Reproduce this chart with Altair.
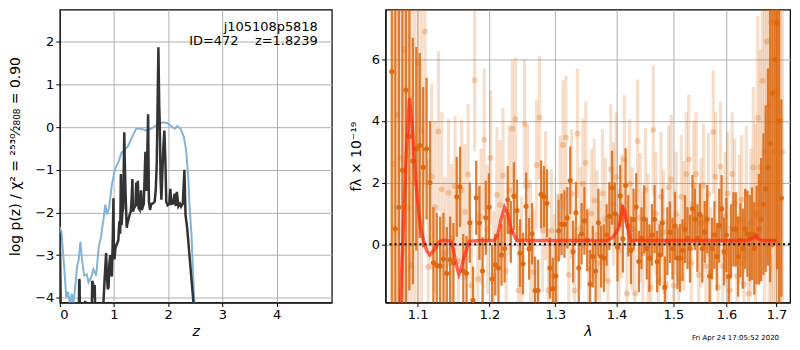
import altair as alt
import pandas as pd

FONT = "DejaVu Sans"

# ---------------- left panel: log p(z) ----------------
z_chi2 = [0.0, 0.03, 0.08, 0.12, 0.15, 0.19, 0.22, 0.25, 0.28, 0.32, 0.35, 0.38, 0.41, 0.45, 0.5,
          0.53, 0.58, 0.62, 0.67, 0.72, 0.76, 0.81, 0.84, 0.87, 0.91, 0.96, 1.02, 1.08, 1.14, 1.2,
          1.26, 1.32, 1.41, 1.5, 1.59, 1.68, 1.78, 1.9, 1.99, 2.08, 2.12, 2.17, 2.23, 2.29, 2.33,
          2.37, 2.39, 2.43, 2.46, 2.49]
logp_chi2 = [-2.35, -2.45, -3.26, -4.0, -3.86, -4.15, -3.9, -4.15, -3.8, -3.26, -3.1, -2.69, -3.1,
             -3.48, -3.45, -3.64, -3.52, -3.33, -3.48, -2.8, -2.58, -2.12, -1.82, -2.05, -1.89,
             -1.36, -0.98, -0.83, -0.6, -0.53, -0.45, -0.27, -0.04, -0.04, -0.08, -0.04, 0.04,
             0.11, 0.09, 0.0, -0.04, 0.02, -0.04, -0.23, -0.53, -1.14, -1.74, -2.5, -3.41, -4.3]

z_pz = [0.0, 0.012, 0.02, 0.35, 0.358, 0.365, 0.372, 0.38, 0.46, 0.468, 0.475, 0.48, 0.59, 0.598,
        0.61, 0.625, 0.635, 0.645, 0.655, 0.79, 0.81, 0.83, 0.855, 0.87, 0.885, 0.90, 0.915, 0.93,
        0.945, 0.96, 0.975, 0.99, 1.0, 1.01, 1.025, 1.04, 1.06, 1.08, 1.10, 1.115, 1.127, 1.14,
        1.155, 1.17, 1.18, 1.19, 1.20, 1.215, 1.235, 1.25, 1.27, 1.29, 1.31, 1.325, 1.34, 1.35,
        1.37, 1.395, 1.41, 1.425, 1.44, 1.455, 1.475, 1.50, 1.515, 1.55, 1.58, 1.60, 1.63, 1.645,
        1.665, 1.69, 1.72, 1.75, 1.77, 1.79, 1.82, 1.835, 1.845, 1.86, 1.875, 1.89, 1.91, 1.93,
        1.95, 1.965, 1.99, 2.02, 2.04, 2.06, 2.09, 2.12, 2.14, 2.16, 2.19, 2.22, 2.24, 2.27, 2.30,
        2.32, 2.35, 2.40, 2.45, 2.48]
logp_pz = [-2.5, -3.6, -4.5, -4.5, -3.56, -3.6, -4.5, -4.5, -4.5, -4.07, -4.5, -4.5, -4.5, -3.6,
           -3.65, -3.75, -4.0, -3.7, -4.5, -4.5, -4.0, -3.5, -2.95, -3.5, -3.8, -3.75, -3.2, -3.0,
           -3.4, -3.5, -2.8, -1.67, -3.0, -3.1, -2.85, -2.78, -2.72, -2.65, -2.2, -2.5, -1.1, -2.3,
           -2.0, -1.9, -1.0, -0.12, -0.84, -1.6, -2.36, -2.25, -2.15, -2.05, -1.98, -1.7, -1.22,
           -1.98, -1.9, -1.85, -1.3, -1.85, -1.26, -1.9, -1.94, -1.48, -1.94, -1.8, -0.58, -1.5,
           0.3, -1.75, -1.94, -1.8, -1.79, -1.75, -1.5, -0.84, 1.87, 0.52, 0.1, -1.22, -1.7, -1.2,
           -0.5, -0.08, -0.84, -1.75, -1.83, -1.8, -1.45, -1.8, -1.79, -1.56, -1.85, -1.52, -1.86,
           -1.8, -1.86, -1.8, -1.0, -2.05, -2.35, -3.1, -3.86, -4.3]

z_ticks = [0, 1, 2, 3, 4]
logp_ticks = [-4, -3, -2, -1, 0, 1, 2]
annot_lines = ["j105108p5818", "ID=472\u00a0\u00a0\u00a0\u00a0z=1.8239"]

# ---------------- right panel: 1D spectrum ----------------
lam_start_dark = 1.066
lam_start_light = 1.0683
lam_step = 0.0046

flux_dark = [5.6, 0.5, 1.2, 2.4, 5.0, 3.5, 2.7, 3.1, 3.2, 2.5,
             3.1, 2.0, -0.6, -0.68, -0.71, -0.48, -0.94, -0.5, -0.61, 1.54,
             1.86, -0.87, -0.94, 0.7, -1.82, 1.51, 0.7, -0.87, 0.86, 1.2,
             -1.13, -0.66, -0.77, -0.35, -0.14, 1.44, 0.4, 1.56, 1.09, -0.29,
             -0.63, 1.23, -0.15, 0.34, -1.5, -1.5, 1.62, 1.54, 1.33, -0.77,
             -1.44, -1.03, 0.44, 0.65, 0.65, 0.86, 2.07, -0.24, 1.02, -0.77,
             0.34, 0.76, 0.13, -1.29, -0.4, -0.87, 0.7, -0.4, -0.45, 0.3,
             0.91, 1.83, 1.0, -0.1, 1.57, 0.18, 1.91, 0.6, -0.2, 0.8,
             1.21, -0.56, 0.2, 0.81, -0.14, -0.45, 0.3, 0.81, -0.56, -0.35,
             0.7, -1.4, 0.1, 0.39, -0.14, 0.6, -0.45, -0.45, -0.19, 0.49,
             0.2, -0.14, 1.15, 0.81, 0.2, 0.97, -0.14, 0.4, 0.81, -1.03,
             -0.14, 0.3, -0.4, 0.6, 1.15, -0.24, 0.3, -1.05, 0.1, 0.49,
             0.49, -0.4, 0.13, -0.14, 0.5, 0.34, 0.2, 0.34, -0.14, 0.3,
             0.49, 0.8, 1.3, 1.8, 2.5, 3.27, 4.9, 6.0, 7.18, 4.0,
             1.5]
err_dark = [12, 12, 12, 12, 8, 5, 4, 3.3, 3.0, 2.6,
            2.3, 2.0, 1.8, 1.7, 1.6, 1.5, 1.5, 1.4, 1.3, 1.3,
            1.3, 1.2, 1.2, 1.3, 1.1, 1.2, 1.2, 1.1, 1.2, 1.1,
            1.1, 1.0, 1.1, 1.0, 1.1, 1.1, 1.0, 1.1, 1.0, 1.1,
            1.0, 1.1, 1.0, 1.0, 1.1, 1.0, 1.1, 1.0, 1.1, 1.0,
            1.0, 1.1, 1.0, 1.0, 1.1, 1.0, 1.1, 1.0, 1.0, 1.1,
            1.0, 1.1, 1.0, 1.1, 1.0, 1.0, 1.1, 1.0, 1.1, 1.0,
            1.1, 1.2, 1.0, 1.1, 1.0, 1.1, 1.2, 1.0, 1.1, 1.0,
            1.1, 1.0, 1.0, 1.1, 1.0, 1.1, 1.0, 1.1, 1.0, 1.0,
            1.1, 1.0, 1.1, 1.0, 1.0, 1.1, 1.0, 1.1, 1.0, 1.1,
            1.0, 1.1, 1.1, 1.0, 1.1, 1.0, 1.1, 1.0, 1.1, 1.1,
            1.0, 1.1, 1.1, 1.2, 1.1, 1.1, 1.2, 1.1, 1.2, 1.2,
            1.2, 1.3, 1.2, 1.3, 1.3, 1.4, 1.4, 1.5, 1.5, 1.6,
            1.8, 2.0, 2.3, 2.7, 3.2, 4.5, 5.0, 6.0, 8.0, 12,
            3.2]

flux_light = [2.6, 4.2, 2.8, 6.3, 1.2, -0.7, 2.0, 5.9, 3.7, 6.9,
              -0.74, 2.2, 1.2, 3.66, 1.78, -0.3, 1.67, 0.2, 1.88, -0.55,
              1.75, 1.05, 2.26, -1.34, 5.32, -1.13, 0.9, 3.4, 0.49, 2.8,
              -1.03, 1.6, 1.28, 2.22, -0.87, 1.75, 3.75, 4.06, -1.5, -0.45,
              3.9, 1.91, 0.0, -0.9, 2.57, 4.11, 0.44, 1.57, -1.5, 0.44,
              -1.03, -0.45, 1.53, 3.22, 3.46, -1.0, 1.63, -1.5, 3.59, 0.5,
              1.96, 2.64, -0.82, 1.0, 1.42, 0.3, -0.6, 1.65, 0.8, -1.19,
              2.43, 1.3, 2.17, -0.2, 0.9, 2.75, -1.6, 1.96, 0.5, -1.6,
              3.35, 0.86, -0.3, 1.77, 0.2, -1.4, 3.71, 1.0, -1.2, 1.54,
              0.4, -1.3, 1.85, 2.1, -1.34, 1.0, -1.13, 1.54, 0.6, 2.28,
              2.75, -0.6, 1.91, 2.28, -1.0, 0.7, 1.91, -0.71, 1.62, -0.9,
              3.64, 2.2, -1.4, 2.52, -0.71, 0.9, 1.65, -1.5, 2.28, 1.33,
              -1.03, 0.8, 1.44, -1.3, 1.65, -1.6, 0.7, 2.5, 1.0, 4.1,
              2.5, 5.3, 3.0, 6.58, 4.5, 7.2, 3.0, 5.0, 2.0, 4.0,
              3.0]
err_light = [12, 12, 12, 12, 10, 10, 9, 8, 6, 5,
             3.5, 3.0, 2.8, 2.6, 2.5, 2.5, 2.4, 2.4, 2.3, 2.3,
             2.3, 2.2, 2.3, 2.2, 2.3, 2.2, 2.2, 2.3, 2.1, 2.2,
             2.1, 2.2, 2.1, 2.2, 2.0, 2.1, 2.2, 2.0, 2.1, 2.0,
             2.1, 2.0, 2.1, 2.0, 2.1, 2.0, 2.0, 2.1, 2.0, 2.0,
             2.0, 2.1, 2.0, 2.1, 2.0, 2.0, 2.1, 2.0, 2.1, 2.0,
             2.1, 2.0, 2.0, 2.1, 2.0, 2.1, 2.0, 2.1, 2.0, 2.0,
             2.1, 2.0, 2.1, 2.0, 2.0, 2.1, 2.0, 2.1, 2.0, 2.1,
             2.0, 2.1, 2.0, 2.0, 2.1, 2.0, 2.1, 2.0, 2.0, 2.1,
             2.0, 2.1, 2.0, 2.1, 2.0, 2.0, 2.1, 2.0, 2.1, 2.0,
             2.1, 2.0, 2.1, 2.0, 2.0, 2.1, 2.0, 2.1, 2.0, 2.1,
             2.0, 2.1, 2.0, 2.1, 2.0, 2.1, 2.0, 2.1, 2.0, 2.1,
             2.0, 2.1, 2.1, 2.2, 2.2, 2.3, 2.4, 2.6, 2.9, 3.3,
             3.8, 4.5, 5.5, 7, 9, 12, 12, 12, 12, 12,
             12]

lam_model = [1.072, 1.0772, 1.081, 1.085, 1.0891, 1.093, 1.097, 1.100, 1.104, 1.1073, 1.112,
             1.1161, 1.120, 1.125, 1.130, 1.1361, 1.1452, 1.149, 1.152, 1.1565, 1.160, 1.1633,
             1.168, 1.1716, 1.19, 1.2068, 1.212, 1.217, 1.2222, 1.227, 1.232, 1.2406, 1.30,
             1.3827, 1.392, 1.398, 1.403, 1.407, 1.4103, 1.414, 1.418, 1.4242, 1.50, 1.640,
             1.650, 1.6566, 1.663, 1.670, 1.7003]
flux_model = [-3.0, -1.9, 0.5, 3.0, 4.74, 3.8, 2.2, 1.39, 0.5, 0.18, -0.2, -0.35, -0.25, -0.08,
              0.1, 0.13, 0.1, -0.2, -0.6, -0.98, -0.75, -0.45, -0.1, 0.1, 0.12, 0.12, 0.3, 0.8,
              1.2, 1.0, 0.5, 0.12, 0.12, 0.12, 0.2, 0.35, 0.5, 0.8, 1.2, 1.1, 0.6, 0.12, 0.12,
              0.12, 0.18, 0.25, 0.18, 0.12, 0.12]

lam_ticks = [1.1, 1.2, 1.3, 1.4, 1.5, 1.6, 1.7]
flux_ticks = [0, 2, 4, 6]
timestamp = "Fri Apr 24 17:05:52 2020"

# ---------------- build tables ----------------
chi2_df = pd.DataFrame({"z": z_chi2, "logp": logp_chi2})
pz_df = pd.DataFrame({"z": z_pz, "logp": logp_pz})

dark = pd.DataFrame({
    "lam": [round(lam_start_dark + lam_step * i, 4) for i in range(len(flux_dark))],
    "flux": flux_dark, "err": err_dark})
dark["lo"] = dark["flux"] - dark["err"]
dark["hi"] = dark["flux"] + dark["err"]
light = pd.DataFrame({
    "lam": [round(lam_start_light + lam_step * i, 4) for i in range(len(flux_light))],
    "flux": flux_light, "err": err_light})
light["lo"] = light["flux"] - light["err"]
light["hi"] = light["flux"] + light["err"]
model = pd.DataFrame({"lam": lam_model, "flux": flux_model})

W1, W2, H = 273, 406, 294
ORANGE = "#dc670f"

# ---------------- left chart ----------------
zx = alt.X("z:Q", scale=alt.Scale(domain=[0, 5.02], nice=False, zero=False),
           axis=alt.Axis(values=z_ticks, format="d", title="z", titleFontStyle="italic",
                         titlePadding=3))
zy = alt.Y("logp:Q", scale=alt.Scale(domain=[-4.11, 2.75], nice=False, zero=False),
           axis=alt.Axis(values=logp_ticks, format="d",
                         title="log p(z) / χ² = ²⁵³⁰⁄₂₈₀₈ = 0.90", titlePadding=12))

blue = alt.Chart(chi2_df).mark_line(clip=True, color="#83b4d8", strokeWidth=2).encode(
    x=zx, y=zy, order="z:Q")
black = alt.Chart(pz_df).mark_line(clip=True, color="#333333", strokeWidth=2.5).encode(
    x=zx, y=zy, order="z:Q")
ann1 = alt.Chart(pd.DataFrame({"t": [annot_lines[0]]})).mark_text(
    align="right", baseline="alphabetic", fontSize=13, font=FONT, color="black").encode(
    x=alt.value(W1 - 14), y=alt.value(21), text="t:N")
ann2 = alt.Chart(pd.DataFrame({"t": [annot_lines[1]]})).mark_text(
    align="right", baseline="alphabetic", fontSize=13, font=FONT, color="black").encode(
    x=alt.value(W1 - 14), y=alt.value(36), text="t:N")

left = alt.layer(blue, black, ann1, ann2).properties(width=W1, height=H)

# ---------------- right chart ----------------
lx = alt.X("lam:Q", scale=alt.Scale(type="log", domain=[1.058, 1.728], nice=False, zero=False),
           axis=alt.Axis(values=lam_ticks, format=".1f", title="λ", titleFontStyle="italic",
                         titlePadding=3))
yscale = alt.Scale(domain=[-1.89, 7.61], nice=False, zero=False)
ly = alt.Y("flux:Q", scale=yscale,
           axis=alt.Axis(values=flux_ticks, format="d", title="fλ × 10⁻¹⁹", titlePadding=8))

light_err = alt.Chart(light).mark_rule(clip=True, color=ORANGE, opacity=0.22, strokeWidth=3.2).encode(
    x=lx, y=alt.Y("lo:Q", scale=yscale), y2="hi:Q")
light_pts = alt.Chart(light).mark_circle(clip=True, color=ORANGE, opacity=0.28, size=36).encode(
    x=lx, y=ly)
dark_err = alt.Chart(dark).mark_rule(clip=True, color=ORANGE, opacity=0.85, strokeWidth=2.3).encode(
    x=lx, y=alt.Y("lo:Q", scale=yscale), y2="hi:Q")
dark_pts = alt.Chart(dark).mark_circle(clip=True, color=ORANGE, opacity=0.95, size=26).encode(
    x=lx, y=ly)
model_line = alt.Chart(model).mark_line(clip=True, color="#ff2a12", opacity=0.72,
                                        strokeWidth=3.4).encode(x=lx, y=ly, order="lam:Q")
zero_line = alt.Chart(pd.DataFrame({"v": [0]})).mark_rule(
    color="black", strokeDash=[2, 3], strokeWidth=2).encode(y=alt.Y("v:Q", scale=yscale))
stamp = alt.Chart(pd.DataFrame({"t": [timestamp]})).mark_text(
    align="right", baseline="alphabetic", fontSize=7, font=FONT, color="black").encode(
    x=alt.value(W2 - 11), y=alt.value(H + 38), text="t:N")

right = alt.layer(light_err, light_pts, dark_err, dark_pts, model_line, zero_line, stamp
                  ).properties(width=W2, height=H)

chart = alt.hconcat(left, right, spacing=16).properties(padding=0).configure_axis(
    labelFont=FONT, titleFont=FONT, labelFontSize=13, titleFontSize=14,
    labelColor="black", titleColor="black", titleFontWeight="normal",
    gridColor="#b0b0b0", gridWidth=1, gridOpacity=1,
    domainColor="black", domainWidth=1, tickColor="black", tickSize=4, tickWidth=1,
    labelPadding=2
).configure_view(stroke="black", strokeWidth=1.2)

chart.save("out.html", embed_options={"renderer": "svg", "actions": False})
